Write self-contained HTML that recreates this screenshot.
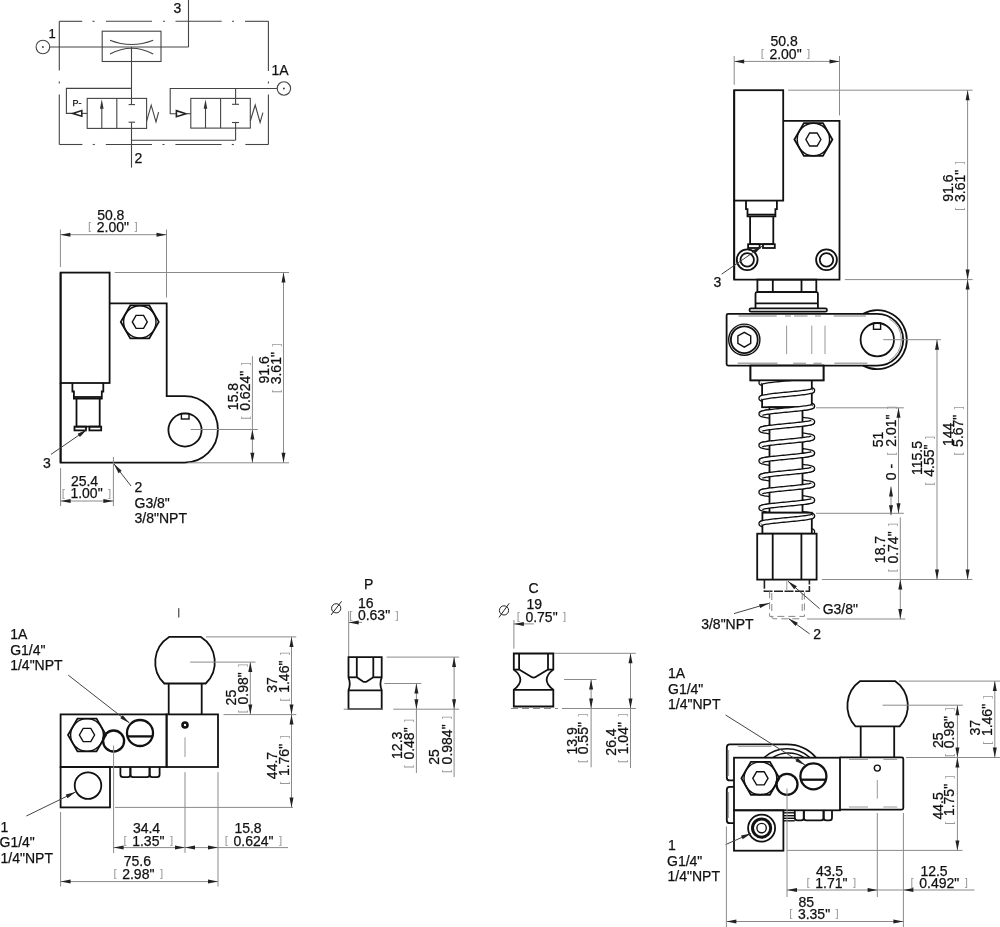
<!DOCTYPE html>
<html><head><meta charset="utf-8"><style>
html,body{margin:0;padding:0;background:#fff;}
svg{display:block;will-change:transform;}
.t{stroke:#8a8a8a;stroke-width:1;fill:none;}
.ld{stroke:#444;stroke-width:1;fill:none;}
.t1{stroke:#222;stroke-width:1;fill:none;}
.s{stroke:#444;stroke-width:1.1;fill:none;}
.k{stroke:#111;stroke-width:1.8;fill:none;}
.k1{stroke:#111;stroke-width:1.4;fill:none;}
.k2{stroke:#111;stroke-width:2.3;fill:none;}
.k3{stroke:#111;stroke-width:3;fill:none;}
.pin{stroke:#111;stroke-width:2.6;fill:none;}
.kw{stroke:#111;stroke-width:1.8;fill:#fff;}
.g{stroke:#999;stroke-width:1;fill:none;}
.hg{stroke:#aaa;stroke-width:1.4;fill:none;}
.hd{stroke:#888;stroke-width:1;fill:none;stroke-dasharray:7 4;}
.hdk{stroke:#222;stroke-width:1.6;fill:none;stroke-dasharray:9 1.5;}
.cl{stroke:#777;stroke-width:1;fill:none;stroke-dasharray:12 3 2 3;}
.coil{stroke:#111;stroke-width:5.6;fill:none;stroke-linecap:round;stroke-linejoin:round;}
.coilb{stroke:#111;stroke-width:5.6;fill:none;stroke-linecap:butt;stroke-linejoin:round;}
.coilwb{stroke:#fff;stroke-width:3;fill:none;stroke-linecap:butt;stroke-linejoin:round;}
.coilw{stroke:#fff;stroke-width:3;fill:none;stroke-linecap:round;stroke-linejoin:round;}
.ah{fill:#222;stroke:none;}
.ahs{fill:#333;stroke:none;}
.tri{fill:#fff;stroke:#222;stroke-width:1.6;}
.dot{fill:#333;stroke:none;}
.tx{font-family:"Liberation Sans",sans-serif;fill:#111;stroke:#111;stroke-width:0.25px;}
.br{fill:#999;stroke:none;font-size:11.5px;}
</style></head>
<body><svg width="1000" height="927" viewBox="0 0 1000 927">
<line x1="59.3" y1="21.3" x2="82.2" y2="21.3" class="s"/>
<line x1="92.5" y1="21.3" x2="94.5" y2="21.3" class="s"/>
<line x1="106" y1="21.3" x2="152" y2="21.3" class="s"/>
<line x1="163" y1="21.3" x2="165" y2="21.3" class="s"/>
<line x1="175.5" y1="21.3" x2="221.7" y2="21.3" class="s"/>
<line x1="232" y1="21.3" x2="234" y2="21.3" class="s"/>
<line x1="245" y1="21.3" x2="268.4" y2="21.3" class="s"/>
<line x1="59.3" y1="144.5" x2="82.4" y2="144.5" class="s"/>
<line x1="92.8" y1="144.5" x2="94.8" y2="144.5" class="s"/>
<line x1="105.8" y1="144.5" x2="152" y2="144.5" class="s"/>
<line x1="162.5" y1="144.5" x2="164.5" y2="144.5" class="s"/>
<line x1="175.4" y1="144.5" x2="221.6" y2="144.5" class="s"/>
<line x1="231.8" y1="144.5" x2="233.8" y2="144.5" class="s"/>
<line x1="245.4" y1="144.5" x2="268.4" y2="144.5" class="s"/>
<line x1="59.3" y1="21.3" x2="59.3" y2="70.5" class="s"/>
<line x1="59.3" y1="81.5" x2="59.3" y2="83.5" class="s"/>
<line x1="59.3" y1="94.4" x2="59.3" y2="144.5" class="s"/>
<line x1="268.4" y1="21.3" x2="268.4" y2="71" class="s"/>
<line x1="268.4" y1="81.5" x2="268.4" y2="83.5" class="s"/>
<line x1="268.4" y1="94.5" x2="268.4" y2="144.5" class="s"/>
<circle cx="42.9" cy="47" r="6.8" class="s"/>
<circle cx="42.9" cy="47" r="0.9" class="dot"/>
<line x1="49.7" y1="47" x2="188.5" y2="47" class="s"/>
<line x1="188.5" y1="0" x2="188.5" y2="47" class="s"/>
<rect x="102.2" y="31.2" width="58.8" height="30.3" class="s"/>
<path d="M110,40.2 Q131.6,48.8 153.2,40.2" class="s"/>
<path d="M110,54 Q131.6,42.6 153.2,54" class="s"/>
<line x1="131.5" y1="47" x2="131.5" y2="104.6" class="s"/>
<line x1="131.5" y1="122.2" x2="131.5" y2="167.6" class="s"/>
<polyline points="131.5,88.4 66.4,88.4 66.4,113.4 72.8,113.4" class="s"/>
<path d="M72.8,113.4 L81.8,110.6 L81.8,116.2 Z" class="tri"/>
<line x1="81.8" y1="113.4" x2="87.2" y2="113.4" class="s"/>
<rect x="87.2" y="98.4" width="59.4" height="30" class="s"/>
<line x1="116.8" y1="98.4" x2="116.8" y2="128.4" class="s"/>
<line x1="101.8" y1="128.4" x2="101.8" y2="106" class="s"/>
<path d="M101.8,99.2 L103.6,108.8 L100,108.8 Z" class="ahs"/>
<line x1="128.6" y1="104.6" x2="135" y2="104.6" class="s"/>
<line x1="128.6" y1="122.2" x2="135" y2="122.2" class="s"/>
<polyline points="146.6,121.4 151.2,105.2 156,122 158.6,112.2" class="s"/>
<text x="72.5" y="105.6" font-size="9" text-anchor="start" class="tx">P-</text>
<line x1="131.5" y1="140.2" x2="235.6" y2="140.2" class="s"/>
<line x1="235.6" y1="122.5" x2="235.6" y2="140.2" class="s"/>
<line x1="235.6" y1="88.5" x2="235.6" y2="104.3" class="s"/>
<rect x="190.8" y="98.4" width="59.5" height="29.7" class="s"/>
<line x1="220.6" y1="98.4" x2="220.6" y2="128.1" class="s"/>
<line x1="205.5" y1="128.1" x2="205.5" y2="106" class="s"/>
<path d="M205.5,99.2 L207.3,108.8 L203.7,108.8 Z" class="ahs"/>
<line x1="232" y1="104.3" x2="239" y2="104.3" class="s"/>
<line x1="232" y1="122.5" x2="239" y2="122.5" class="s"/>
<polyline points="277.2,88.5 170.2,88.5 170.2,113.7 176.4,113.7" class="s"/>
<path d="M185.9,113.7 L176.4,110.7 L176.4,116.7 Z" class="tri"/>
<line x1="185.9" y1="113.7" x2="190.8" y2="113.7" class="s"/>
<polyline points="250.3,121 255.2,105 260.1,122.5 262.9,112.7" class="s"/>
<circle cx="283.9" cy="88.5" r="6.7" class="s"/>
<circle cx="283.9" cy="88.5" r="0.9" class="dot"/>
<text x="48.5" y="37.6" font-size="13" text-anchor="start" class="tx">1</text>
<text x="173.5" y="12.8" font-size="14" text-anchor="start" class="tx">3</text>
<text x="271.5" y="75" font-size="14" text-anchor="start" class="tx">1A</text>
<text x="134.5" y="163.4" font-size="14" text-anchor="start" class="tx">2</text>
<rect x="60.6" y="272.6" width="49" height="110.4" class="k"/>
<polygon points="158.8,321.9 149.3,338.35 130.3,338.35 120.8,321.9 130.3,305.45 149.3,305.45" class="k"/>
<circle cx="139.8" cy="321.9" r="16.2" class="k1"/>
<polygon points="147.3,321.9 143.55,328.4 136.05,328.4 132.3,321.9 136.05,315.4 143.55,315.4" class="k1"/>
<polyline points="72.4,383 72.4,391.5 73.9,391.5 73.9,398.7 101.8,398.7 101.8,391.5 103.3,391.5 103.3,383" class="k"/>
<line x1="73.9" y1="397" x2="101.8" y2="397" class="k"/>
<polyline points="76.5,398.7 76.5,426.6 99.7,426.6 99.7,398.7" class="k"/>
<rect x="74.5" y="426.6" width="11.5" height="3.8" class="k"/>
<rect x="89.4" y="426.6" width="11.8" height="3.8" class="k"/>
<path d="M109.6,303.4 H166.7 V396.2 H184.7 A33.2,33.2 0 0 1 184.7,462.6 H60.6 V383" class="k"/>
<line x1="60.6" y1="272.6" x2="60.6" y2="462.6" class="k"/>
<circle cx="185" cy="430" r="16.6" class="k"/>
<rect x="181.4" y="413.6" width="7.6" height="5.4" class="k1"/>
<line x1="190.6" y1="429.5" x2="257.9" y2="429.5" class="t"/>
<line x1="51" y1="454.4" x2="87" y2="429.6" class="ld"/>
<path d="M87,429.6L79.9,436.92L77.63,433.63Z" class="ah"/>
<text x="43" y="467.6" font-size="14" text-anchor="start" class="tx">3</text>
<line x1="60.6" y1="468" x2="60.6" y2="506" class="t"/>
<line x1="113.4" y1="457" x2="113.4" y2="506" class="t"/>
<line x1="60.6" y1="501" x2="113.4" y2="501" class="t"/>
<path d="M60.6,501L70.6,499L70.6,503Z" class="ah"/>
<path d="M113.4,501L103.4,503L103.4,499Z" class="ah"/>
<text x="84.5" y="486" font-size="14" text-anchor="middle" class="tx">25.4</text>
<text x="86.5" y="498" font-size="14" text-anchor="middle" class="tx"><tspan class="br" dy="-1.5">[</tspan><tspan dx="1.6" dy="1.5"> 1.00" </tspan><tspan class="br" dx="1.6" dy="-1.5">]</tspan></text>
<line x1="131" y1="486" x2="114" y2="464" class="ld"/>
<path d="M114,464L121.7,470.69L118.53,473.14Z" class="ah"/>
<text x="134.5" y="492" font-size="14" text-anchor="start" class="tx">2</text>
<text x="134.5" y="508" font-size="14" text-anchor="start" class="tx">G3/8"</text>
<text x="134.5" y="523.2" font-size="14" text-anchor="start" class="tx">3/8"NPT</text>
<line x1="60.4" y1="229.5" x2="60.4" y2="267" class="t"/>
<line x1="166.5" y1="229.5" x2="166.5" y2="297.4" class="t"/>
<line x1="60.4" y1="234.7" x2="166.5" y2="234.7" class="t"/>
<path d="M60.4,234.7L70.4,232.7L70.4,236.7Z" class="ah"/>
<path d="M166.5,234.7L156.5,236.7L156.5,232.7Z" class="ah"/>
<text x="110.75" y="219.7" font-size="14" text-anchor="middle" class="tx">50.8</text>
<text x="112.85" y="231.7" font-size="14" text-anchor="middle" class="tx"><tspan class="br" dy="-1.5">[</tspan><tspan dx="1.6" dy="1.5"> 2.00" </tspan><tspan class="br" dx="1.6" dy="-1.5">]</tspan></text>
<line x1="114.7" y1="272.5" x2="289" y2="272.5" class="t"/>
<line x1="188" y1="462.8" x2="289" y2="462.8" class="t"/>
<line x1="283.5" y1="272.5" x2="283.5" y2="462.8" class="t"/>
<path d="M283.5,272.5L285.5,282.5L281.5,282.5Z" class="ah"/>
<path d="M283.5,462.8L281.5,452.8L285.5,452.8Z" class="ah"/>
<text transform="translate(268.7,369.8) rotate(-90)" font-size="14" text-anchor="middle" class="tx">91.6</text>
<text transform="translate(281,368.2) rotate(-90)" font-size="14" text-anchor="middle" class="tx"><tspan class="br" dy="-1.5">[</tspan><tspan dx="1.6" dy="1.5"> 3.61" </tspan><tspan class="br" dx="1.6" dy="-1.5">]</tspan></text>
<line x1="252.4" y1="356.3" x2="252.4" y2="462.8" class="t"/>
<path d="M252.4,429.5L254.4,439.5L250.4,439.5Z" class="ah"/>
<path d="M252.4,462.8L250.4,452.8L254.4,452.8Z" class="ah"/>
<text transform="translate(238,396.5) rotate(-90)" font-size="14" text-anchor="middle" class="tx">15.8</text>
<text transform="translate(250,390.8) rotate(-90)" font-size="14" text-anchor="middle" class="tx"><tspan class="br" dy="-1.5">[</tspan><tspan dx="1.6" dy="1.5"> 0.624" </tspan><tspan class="br" dx="1.6" dy="-1.5">]</tspan></text>
<rect x="734.2" y="90.2" width="49" height="110.4" class="k"/>
<polygon points="832.4,139.5 822.9,155.95 803.9,155.95 794.4,139.5 803.9,123.05 822.9,123.05" class="k"/>
<circle cx="813.4" cy="139.5" r="16.2" class="k1"/>
<polygon points="820.9,139.5 817.15,146 809.65,146 805.9,139.5 809.65,133 817.15,133" class="k1"/>
<polyline points="746,200.6 746,209.1 747.5,209.1 747.5,216.3 775.4,216.3 775.4,209.1 776.9,209.1 776.9,200.6" class="k"/>
<line x1="747.5" y1="214.6" x2="775.4" y2="214.6" class="k"/>
<polyline points="750.1,216.3 750.1,244.2 773.3,244.2 773.3,216.3" class="k"/>
<rect x="748.1" y="244.2" width="11.5" height="3.8" class="k"/>
<rect x="763" y="244.2" width="11.8" height="3.8" class="k"/>
<path d="M783.2,120.8 H839.5 V279.6 H734.2 V200" class="k"/>
<line x1="734.2" y1="90.2" x2="734.2" y2="279.6" class="k"/>
<circle cx="747.2" cy="259.8" r="10.4" class="k"/>
<circle cx="747.2" cy="259.8" r="6.75" class="k"/>
<circle cx="826.5" cy="259.8" r="10.4" class="k"/>
<circle cx="826.5" cy="259.8" r="6.75" class="k"/>
<line x1="721.6" y1="274.2" x2="762" y2="246.3" class="ld"/>
<path d="M762,246.3L754.91,253.63L752.63,250.34Z" class="ah"/>
<text x="713.5" y="287.3" font-size="14" text-anchor="start" class="tx">3</text>
<rect x="757.4" y="279.6" width="58.9" height="12.4" class="k"/>
<line x1="772.8" y1="279.6" x2="772.8" y2="292" class="k"/>
<line x1="801.5" y1="279.6" x2="801.5" y2="292" class="k"/>
<path d="M755.5,308.3 V293.6 Q755.5,292.1 757,292.1 H816.4 Q817.9,292.1 817.9,293.6 V308.3" class="k"/>
<line x1="755.5" y1="303.4" x2="817.9" y2="303.4" class="k"/>
<rect x="749.5" y="308.3" width="77.4" height="3.4" rx="1.5" class="k"/>
<path d="M863.2,313.8 A29.5,29.5 0 1 1 863.2,365.6" class="k"/>
<path d="M728.1,313.8 H877.3 A25.9,25.9 0 0 1 877.3,365.6 H728.1 Q726.6,365.6 726.6,364.1 V315.3 Q726.6,313.8 728.1,313.8 Z" class="k"/>
<path d="M889.3,318.9 A24,24 0 0 1 889.3,360.5" class="g"/>
<circle cx="877.3" cy="339.7" r="16.7" class="k"/>
<rect x="873.5" y="323" width="7.1" height="6.3" class="k1"/>
<circle cx="744.3" cy="339.7" r="15.6" class="k1"/>
<circle cx="744.3" cy="339.7" r="13.4" class="k"/>
<polygon points="750.71,343.4 744.3,347.1 737.89,343.4 737.89,336 744.3,332.3 750.71,336" class="k1"/>
<line x1="786.6" y1="325.6" x2="786.6" y2="354" class="g"/>
<line x1="811.8" y1="325.6" x2="811.8" y2="354" class="g"/>
<line x1="825" y1="325.6" x2="825" y2="354" class="g"/>
<line x1="738.5" y1="316" x2="776.7" y2="316" class="hg"/>
<line x1="785" y1="316" x2="791" y2="316" class="hg"/>
<line x1="794" y1="316" x2="807.5" y2="316" class="hg"/>
<line x1="815" y1="316" x2="821" y2="316" class="hg"/>
<line x1="833.7" y1="316" x2="866" y2="316" class="hg"/>
<line x1="737.7" y1="363.3" x2="777.5" y2="363.3" class="hg"/>
<line x1="793.2" y1="363.3" x2="806" y2="363.3" class="hg"/>
<line x1="813.5" y1="363.3" x2="821.7" y2="363.3" class="hg"/>
<line x1="834.4" y1="363.3" x2="867.4" y2="363.3" class="hg"/>
<line x1="883.2" y1="339.7" x2="941" y2="339.7" class="t"/>
<rect x="750.5" y="365.7" width="73" height="14.6" class="k"/>
<path d="M786.8,535.5 788.9,535.3 790.9,535.1 792.9,534.9 794.9,534.7 796.8,534.5 798.7,534.3 800.5,534.1 802.2,533.9 803.8,533.7 805.3,533.5 806.6,533.3 807.9,533.1 809.0,532.9 809.9,532.7 810.8,532.5 811.4,532.3 811.9,532.1 812.3,531.9 812.5,531.7 812.5,531.5 812.3,531.3 812.0,531.1 811.6,530.9 810.9,530.7 810.1,530.5 809.2,530.3 808.1,530.1 806.9,529.9 805.6,529.7 804.1,529.5 802.5,529.3 800.9,529.1 799.1,528.9 797.2,528.7 795.3,528.5 793.4,528.3 791.4,528.1 789.3,527.9 787.3,527.7 785.2,527.5 783.2,527.3 781.1,527.1 779.2,526.9 777.2,526.7 775.3,526.5 773.5,526.3 771.8,526.1 770.2,525.9 768.7,525.7 767.3,525.5 766.0,525.3 764.9,525.1 763.9,524.9 763.0,524.7 762.3,524.5 761.8,524.3 761.4,524.1 761.2,523.9 761.1,523.7 761.2,523.5 761.5,523.3 761.9,523.1 762.5,522.9 763.3,522.7 764.2,522.5 765.2,522.3 766.4,522.1 767.7,521.9 769.1,521.7 770.7,521.5 772.4,521.3 774.1,521.1 775.9,520.9 777.8,520.7 779.8,520.5 781.8,520.3 783.8,520.1 785.9,519.9 787.9,519.7 790.0,519.5 792.0,519.3 794.0,519.1 796.0,518.9 797.8,518.7 799.7,518.5 801.4,518.3 803.0,518.1 804.6,517.9 806.0,517.7 807.3,517.5 808.5,517.3 809.5,517.1 810.4,516.9 811.1,516.7 811.7,516.5 812.1,516.3 812.4,516.1 812.5,515.9 812.4,515.7 812.2,515.5 811.8,515.3 811.2,515.1 810.5,514.9 809.7,514.7 808.6,514.5 807.5,514.3 806.2,514.1 804.8,513.9 803.3,513.7 801.6,513.5 799.9,513.3 798.1,513.1 796.2,512.9 794.3,512.7 792.3,512.5 790.2,512.3 788.2,512.1 786.1,511.9 784.1,511.7 782.1,511.5 780.0,511.3 778.1,511.1 776.2,510.9 774.3,510.7 772.6,510.5 770.9,510.3 769.4,510.1 767.9,509.9 766.6,509.7 765.4,509.5 764.3,509.3 763.4,509.1 762.6,508.9 762.0,508.7 761.5,508.5 761.2,508.3 761.1,508.1 761.1,507.9 761.3,507.7 761.7,507.5 762.2,507.3 762.9,507.1 763.7,506.9 764.7,506.7 765.8,506.5 767.1,506.3 768.5,506.1 770.0,505.9 771.6,505.7 773.3,505.5 775.1,505.3 777.0,505.1 778.9,504.9 780.9,504.7 782.9,504.5 784.9,504.3 787.0,504.1 789.0,503.9 791.1,503.7 793.1,503.5 795.1,503.3 797.0,503.1 798.8,502.9 800.6,502.7 802.3,502.5 803.9,502.3 805.4,502.1 806.7,501.9 808.0,501.7 809.1,501.5 810.0,501.3 810.8,501.1 811.5,500.9 812.0,500.7 812.3,500.5 812.5,500.3 812.5,500.1 812.3,499.9 812.0,499.7 811.5,499.5 810.9,499.3 810.1,499.1 809.1,498.9 808.0,498.7 806.8,498.5 805.4,498.3 804.0,498.1 802.4,497.9 800.7,497.7 798.9,497.5 797.1,497.3 795.2,497.1 793.2,496.9 791.2,496.7 789.1,496.5 787.1,496.3 785.0,496.1 783.0,495.9 781.0,495.7 779.0,495.5 777.0,495.3 775.2,495.1 773.4,494.9 771.7,494.7 770.0,494.5 768.5,494.3 767.2,494.1 765.9,493.9 764.8,493.7 763.8,493.5 762.9,493.3 762.2,493.1 761.7,492.9 761.4,492.7 761.1,492.5 761.1,492.3 761.2,492.1 761.5,491.9 762.0,491.7 762.6,491.5 763.3,491.3 764.3,491.1 765.3,490.9 766.5,490.7 767.8,490.5 769.3,490.3 770.8,490.1 772.5,489.9 774.3,489.7 776.1,489.5 778.0,489.3 780.0,489.1 782.0,488.9 784.0,488.7 786.1,488.5 788.1,488.3 790.2,488.1 792.2,487.9 794.2,487.7 796.1,487.5 798.0,487.3 799.8,487.1 801.6,486.9 803.2,486.7 804.7,486.5 806.1,486.3 807.4,486.1 808.6,485.9 809.6,485.7 810.5,485.5 811.2,485.3 811.8,485.1 812.2,484.9 812.4,484.7 812.5,484.5 812.4,484.3 812.2,484.1 811.7,483.9 811.2,483.7 810.4,483.5 809.6,483.3 808.5,483.1 807.4,482.9 806.1,482.7 804.7,482.5 803.1,482.3 801.5,482.1 799.7,481.9 797.9,481.7 796.0,481.5 794.1,481.3 792.1,481.1 790.1,480.9 788.0,480.7 786.0,480.5 783.9,480.3 781.9,480.1 779.9,479.9 777.9,479.7 776.0,479.5 774.2,479.3 772.4,479.1 770.8,478.9 769.2,478.7 767.8,478.5 766.4,478.3 765.3,478.1 764.2,477.9 763.3,477.7 762.5,477.5 761.9,477.3 761.5,477.1 761.2,476.9 761.1,476.7 761.2,476.5 761.4,476.3 761.7,476.1 762.3,475.9 763.0,475.7 763.8,475.5 764.8,475.3 765.9,475.1 767.2,474.9 768.6,474.7 770.1,474.5 771.7,474.3 773.5,474.1 775.3,473.9 777.1,473.7 779.1,473.5 781.1,473.3 783.1,473.1 785.1,472.9 787.2,472.7 789.2,472.5 791.3,472.3 793.3,472.1 795.3,471.9 797.2,471.7 799.0,471.5 800.8,471.3 802.5,471.1 804.0,470.9 805.5,470.7 806.9,470.5 808.1,470.3 809.2,470.1 810.1,469.9 810.9,469.7 811.5,469.5 812.0,469.3 812.3,469.1 812.5,468.9 812.5,468.7 812.3,468.5 812.0,468.3 811.5,468.1 810.8,467.9 810.0,467.7 809.0,467.5 807.9,467.3 806.7,467.1 805.3,466.9 803.8,466.7 802.2,466.5 800.5,466.3 798.8,466.1 796.9,465.9 795.0,465.7 793.0,465.5 791.0,465.3 788.9,465.1 786.9,464.9 784.8,464.7 782.8,464.5 780.8,464.3 778.8,464.1 776.9,463.9 775.0,463.7 773.2,463.5 771.5,463.3 769.9,463.1 768.4,462.9 767.0,462.7 765.8,462.5 764.7,462.3 763.7,462.1 762.9,461.9 762.2,461.7 761.7,461.5 761.3,461.3 761.1,461.1 761.1,460.9 761.2,460.7 761.6,460.5 762.0,460.3 762.6,460.1 763.4,459.9 764.3,459.7 765.4,459.5 766.6,459.3 768.0,459.1 769.4,458.9 771.0,458.7 772.7,458.5 774.4,458.3 776.3,458.1 778.2,457.9 780.1,457.7 782.2,457.5 784.2,457.3 786.2,457.1 788.3,456.9 790.3,456.7 792.4,456.5 794.4,456.3 796.3,456.1 798.2,455.9 800.0,455.7 801.7,455.5 803.3,455.3 804.9,455.1 806.3,454.9 807.5,454.7 808.7,454.5 809.7,454.3 810.6,454.1 811.3,453.9 811.8,453.7 812.2,453.5 812.4,453.3 812.5,453.1 812.4,452.9 812.1,452.7 811.7,452.5 811.1,452.3 810.4,452.1 809.5,451.9 808.4,451.7 807.3,451.5 805.9,451.3 804.5,451.1 803.0,450.9 801.3,450.7 799.6,450.5 797.8,450.3 795.9,450.1 793.9,449.9 791.9,449.7 789.9,449.5 787.8,449.3 785.8,449.1 783.7,448.9 781.7,448.7 779.7,448.5 777.7,448.3 775.8,448.1 774.0,447.9 772.3,447.7 770.6,447.5 769.1,447.3 767.6,447.1 766.3,446.9 765.2,446.7 764.1,446.5 763.2,446.3 762.5,446.1 761.9,445.9 761.5,445.7 761.2,445.5 761.1,445.3 761.2,445.1 761.4,444.9 761.8,444.7 762.3,444.5 763.0,444.3 763.9,444.1 764.9,443.9 766.1,443.7 767.3,443.5 768.7,443.3 770.3,443.1 771.9,442.9 773.6,442.7 775.4,442.5 777.3,442.3 779.2,442.1 781.2,441.9 783.3,441.7 785.3,441.5 787.4,441.3 789.4,441.1 791.5,440.9 793.5,440.7 795.4,440.5 797.3,440.3 799.2,440.1 800.9,439.9 802.6,439.7 804.2,439.5 805.6,439.3 807.0,439.1 808.2,438.9 809.3,438.7 810.2,438.5 811.0,438.3 811.6,438.1 812.1,437.9 812.4,437.7 812.5,437.5 812.5,437.3 812.3,437.1 811.9,436.9 811.4,436.7 810.7,436.5 809.9,436.3 808.9,436.1 807.8,435.9 806.6,435.7 805.2,435.5 803.7,435.3 802.1,435.1 800.4,434.9 798.6,434.7 796.7,434.5 794.8,434.3 792.8,434.1 790.8,433.9 788.8,433.7 786.7,433.5 784.6,433.3 782.6,433.1 780.6,432.9 778.6,432.7 776.7,432.5 774.8,432.3 773.1,432.1 771.4,431.9 769.8,431.7 768.3,431.5 766.9,431.3 765.7,431.1 764.6,430.9 763.6,430.7 762.8,430.5 762.1,430.3 761.6,430.1 761.3,429.9 761.1,429.7 761.1,429.5 761.3,429.3 761.6,429.1 762.1,428.9 762.7,428.7 763.5,428.5 764.4,428.3 765.5,428.1 766.7,427.9 768.1,427.7 769.6,427.5 771.1,427.3 772.8,427.1 774.6,426.9 776.4,426.7 778.4,426.5 780.3,426.3 782.3,426.1 784.4,425.9 786.4,425.7 788.5,425.5 790.5,425.3 792.6,425.1 794.5,424.9 796.5,424.7 798.4,424.5 800.2,424.3 801.9,424.1 803.5,423.9 805.0,423.7 806.4,423.5 807.7,423.3 808.8,423.1 809.8,422.9 810.6,422.7 811.3,422.5 811.9,422.3 812.2,422.1 812.4,421.9 812.5,421.7 812.4,421.5 812.1,421.3 811.7,421.1 811.1,420.9 810.3,420.7 809.4,420.5 808.3,420.3 807.1,420.1 805.8,419.9 804.4,419.7 802.8,419.5 801.2,419.3 799.4,419.1 797.6,418.9 795.7,418.7 793.7,418.5 791.7,418.3 789.7,418.1 787.6,417.9 785.6,417.7 783.5,417.5 781.5,417.3 779.5,417.1 777.6,416.9 775.7,416.7 773.8,416.5 772.1,416.3 770.5,416.1 768.9,415.9 767.5,415.7 766.2,415.5 765.1,415.3 764.0,415.1 763.1,414.9 762.4,414.7 761.8,414.5 761.4,414.3 761.2,414.1 761.1,413.9 761.2,413.7 761.4,413.5 761.8,413.3 762.4,413.1 763.1,412.9 764.0,412.7 765.0,412.5 766.2,412.3 767.5,412.1 768.9,411.9 770.4,411.7 772.1,411.5 773.8,411.3 775.6,411.1 777.5,410.9 779.4,410.7 781.4,410.5 783.4,410.3 785.5,410.1 787.6,409.9 789.6,409.7 791.6,409.5 793.6,409.3 795.6,409.1 797.5,408.9 799.3,408.7 801.1,408.5 802.8,408.3 804.3,408.1 805.8,407.9 807.1,407.7 808.3,407.5 809.4,407.3 810.3,407.1 811.0,406.9 811.6,406.7 812.1,406.5 812.4,406.3 812.5,406.1 812.5,405.9 812.2,405.7 811.9,405.5 811.3,405.3 810.7,405.1 809.8,405.0 808.8,404.8 807.7,404.6 806.4,404.4 805.0,404.2 803.5,404.0 801.9,403.8 800.2,403.6 798.4,403.4 796.6,403.2 794.6,403.0 792.6,402.8 790.6,402.6 788.6,402.4 786.5,402.2 784.5,402.0 782.4,401.8 780.4,401.6 778.4,401.4 776.5,401.2 774.7,401.0 772.9,400.8 771.2,400.6 769.6,400.4 768.1,400.2 766.8,400.0 765.6,399.8 764.5,399.6 763.5,399.4 762.7,399.2 762.1,399.0 761.6,398.8 761.3,398.6 761.1,398.4 761.1,398.2 761.3,398.0 761.6,397.8 762.1,397.6 762.8,397.4 763.6,397.2 764.5,397.0 765.6,396.8 766.9,396.6 768.2,396.4 769.7,396.2 771.3,396.0 773.0,395.8 774.8,395.6 776.6,395.4 778.5,395.2 780.5,395.0 782.5,394.8 784.6,394.6 786.6,394.4 788.7,394.2 790.7,394.0 792.7,393.8 794.7,393.6 796.7,393.4 798.5,393.2 800.3,393.0 802.0,392.8 803.6,392.6 805.1,392.4 806.5,392.2 807.8,392.0 808.9,391.8 809.9,391.6 810.7,391.4 811.4,391.2 811.9,391.0 812.3,390.8 812.5,390.6 812.5,390.4 812.4,390.2 812.1,390.0 811.6,389.8 811.0,389.6 810.2,389.4 809.3,389.2 808.2,389.0 807.0,388.8 805.7,388.6 804.2,388.4 802.7,388.2 801.0,388.0 799.2,387.8 797.4,387.6 795.5,387.4 793.5,387.2 791.5,387.0 789.5,386.8 787.4,386.6 785.4,386.4 783.3,386.2 781.3,386.0 779.3,385.8 777.4,385.6 775.5,385.4 773.7,385.2 772.0,385.0 770.3,384.8 768.8,384.6 767.4,384.4 766.1,384.2 765.0,384.0 763.9,383.8 763.1,383.6 762.4,383.4 761.8,383.2 761.4,383.0 761.2,382.8 761.1,382.6 761.2,382.4 761.5,382.2 761.9,382.0 762.5,381.8 763.2,381.6 764.1,381.4 765.1,381.2 766.3,381.0 767.6,380.8 769.0,380.6 770.6,380.4 772.2,380.2 773.9,380.0 775.8,379.8 777.7,379.6 779.6,379.4 781.6,379.2 783.6,379.0 785.7,378.8 787.7,378.6 789.8,378.4 791.8,378.2 793.8,378.0 795.8,377.8 797.7,377.6 799.5,377.4 801.3,377.2 802.9,377.0 804.5,376.8 805.9,376.6 807.2,376.4 808.4,376.2 809.4,376.0 810.3,375.8 811.1,375.6 811.7,375.4 812.1,375.2 812.4,375.0 812.5,374.8 812.4,374.6 812.2,374.4 811.8,374.2 811.3,374.0 810.6,373.8 809.7,373.6 808.7,373.4 807.6,373.2" class="coil"/>
<path d="M786.8,535.5 788.9,535.3 790.9,535.1 792.9,534.9 794.9,534.7 796.8,534.5 798.7,534.3 800.5,534.1 802.2,533.9 803.8,533.7 805.3,533.5 806.6,533.3 807.9,533.1 809.0,532.9 809.9,532.7 810.8,532.5 811.4,532.3 811.9,532.1 812.3,531.9 812.5,531.7 812.5,531.5 812.3,531.3 812.0,531.1 811.6,530.9 810.9,530.7 810.1,530.5 809.2,530.3 808.1,530.1 806.9,529.9 805.6,529.7 804.1,529.5 802.5,529.3 800.9,529.1 799.1,528.9 797.2,528.7 795.3,528.5 793.4,528.3 791.4,528.1 789.3,527.9 787.3,527.7 785.2,527.5 783.2,527.3 781.1,527.1 779.2,526.9 777.2,526.7 775.3,526.5 773.5,526.3 771.8,526.1 770.2,525.9 768.7,525.7 767.3,525.5 766.0,525.3 764.9,525.1 763.9,524.9 763.0,524.7 762.3,524.5 761.8,524.3 761.4,524.1 761.2,523.9 761.1,523.7 761.2,523.5 761.5,523.3 761.9,523.1 762.5,522.9 763.3,522.7 764.2,522.5 765.2,522.3 766.4,522.1 767.7,521.9 769.1,521.7 770.7,521.5 772.4,521.3 774.1,521.1 775.9,520.9 777.8,520.7 779.8,520.5 781.8,520.3 783.8,520.1 785.9,519.9 787.9,519.7 790.0,519.5 792.0,519.3 794.0,519.1 796.0,518.9 797.8,518.7 799.7,518.5 801.4,518.3 803.0,518.1 804.6,517.9 806.0,517.7 807.3,517.5 808.5,517.3 809.5,517.1 810.4,516.9 811.1,516.7 811.7,516.5 812.1,516.3 812.4,516.1 812.5,515.9 812.4,515.7 812.2,515.5 811.8,515.3 811.2,515.1 810.5,514.9 809.7,514.7 808.6,514.5 807.5,514.3 806.2,514.1 804.8,513.9 803.3,513.7 801.6,513.5 799.9,513.3 798.1,513.1 796.2,512.9 794.3,512.7 792.3,512.5 790.2,512.3 788.2,512.1 786.1,511.9 784.1,511.7 782.1,511.5 780.0,511.3 778.1,511.1 776.2,510.9 774.3,510.7 772.6,510.5 770.9,510.3 769.4,510.1 767.9,509.9 766.6,509.7 765.4,509.5 764.3,509.3 763.4,509.1 762.6,508.9 762.0,508.7 761.5,508.5 761.2,508.3 761.1,508.1 761.1,507.9 761.3,507.7 761.7,507.5 762.2,507.3 762.9,507.1 763.7,506.9 764.7,506.7 765.8,506.5 767.1,506.3 768.5,506.1 770.0,505.9 771.6,505.7 773.3,505.5 775.1,505.3 777.0,505.1 778.9,504.9 780.9,504.7 782.9,504.5 784.9,504.3 787.0,504.1 789.0,503.9 791.1,503.7 793.1,503.5 795.1,503.3 797.0,503.1 798.8,502.9 800.6,502.7 802.3,502.5 803.9,502.3 805.4,502.1 806.7,501.9 808.0,501.7 809.1,501.5 810.0,501.3 810.8,501.1 811.5,500.9 812.0,500.7 812.3,500.5 812.5,500.3 812.5,500.1 812.3,499.9 812.0,499.7 811.5,499.5 810.9,499.3 810.1,499.1 809.1,498.9 808.0,498.7 806.8,498.5 805.4,498.3 804.0,498.1 802.4,497.9 800.7,497.7 798.9,497.5 797.1,497.3 795.2,497.1 793.2,496.9 791.2,496.7 789.1,496.5 787.1,496.3 785.0,496.1 783.0,495.9 781.0,495.7 779.0,495.5 777.0,495.3 775.2,495.1 773.4,494.9 771.7,494.7 770.0,494.5 768.5,494.3 767.2,494.1 765.9,493.9 764.8,493.7 763.8,493.5 762.9,493.3 762.2,493.1 761.7,492.9 761.4,492.7 761.1,492.5 761.1,492.3 761.2,492.1 761.5,491.9 762.0,491.7 762.6,491.5 763.3,491.3 764.3,491.1 765.3,490.9 766.5,490.7 767.8,490.5 769.3,490.3 770.8,490.1 772.5,489.9 774.3,489.7 776.1,489.5 778.0,489.3 780.0,489.1 782.0,488.9 784.0,488.7 786.1,488.5 788.1,488.3 790.2,488.1 792.2,487.9 794.2,487.7 796.1,487.5 798.0,487.3 799.8,487.1 801.6,486.9 803.2,486.7 804.7,486.5 806.1,486.3 807.4,486.1 808.6,485.9 809.6,485.7 810.5,485.5 811.2,485.3 811.8,485.1 812.2,484.9 812.4,484.7 812.5,484.5 812.4,484.3 812.2,484.1 811.7,483.9 811.2,483.7 810.4,483.5 809.6,483.3 808.5,483.1 807.4,482.9 806.1,482.7 804.7,482.5 803.1,482.3 801.5,482.1 799.7,481.9 797.9,481.7 796.0,481.5 794.1,481.3 792.1,481.1 790.1,480.9 788.0,480.7 786.0,480.5 783.9,480.3 781.9,480.1 779.9,479.9 777.9,479.7 776.0,479.5 774.2,479.3 772.4,479.1 770.8,478.9 769.2,478.7 767.8,478.5 766.4,478.3 765.3,478.1 764.2,477.9 763.3,477.7 762.5,477.5 761.9,477.3 761.5,477.1 761.2,476.9 761.1,476.7 761.2,476.5 761.4,476.3 761.7,476.1 762.3,475.9 763.0,475.7 763.8,475.5 764.8,475.3 765.9,475.1 767.2,474.9 768.6,474.7 770.1,474.5 771.7,474.3 773.5,474.1 775.3,473.9 777.1,473.7 779.1,473.5 781.1,473.3 783.1,473.1 785.1,472.9 787.2,472.7 789.2,472.5 791.3,472.3 793.3,472.1 795.3,471.9 797.2,471.7 799.0,471.5 800.8,471.3 802.5,471.1 804.0,470.9 805.5,470.7 806.9,470.5 808.1,470.3 809.2,470.1 810.1,469.9 810.9,469.7 811.5,469.5 812.0,469.3 812.3,469.1 812.5,468.9 812.5,468.7 812.3,468.5 812.0,468.3 811.5,468.1 810.8,467.9 810.0,467.7 809.0,467.5 807.9,467.3 806.7,467.1 805.3,466.9 803.8,466.7 802.2,466.5 800.5,466.3 798.8,466.1 796.9,465.9 795.0,465.7 793.0,465.5 791.0,465.3 788.9,465.1 786.9,464.9 784.8,464.7 782.8,464.5 780.8,464.3 778.8,464.1 776.9,463.9 775.0,463.7 773.2,463.5 771.5,463.3 769.9,463.1 768.4,462.9 767.0,462.7 765.8,462.5 764.7,462.3 763.7,462.1 762.9,461.9 762.2,461.7 761.7,461.5 761.3,461.3 761.1,461.1 761.1,460.9 761.2,460.7 761.6,460.5 762.0,460.3 762.6,460.1 763.4,459.9 764.3,459.7 765.4,459.5 766.6,459.3 768.0,459.1 769.4,458.9 771.0,458.7 772.7,458.5 774.4,458.3 776.3,458.1 778.2,457.9 780.1,457.7 782.2,457.5 784.2,457.3 786.2,457.1 788.3,456.9 790.3,456.7 792.4,456.5 794.4,456.3 796.3,456.1 798.2,455.9 800.0,455.7 801.7,455.5 803.3,455.3 804.9,455.1 806.3,454.9 807.5,454.7 808.7,454.5 809.7,454.3 810.6,454.1 811.3,453.9 811.8,453.7 812.2,453.5 812.4,453.3 812.5,453.1 812.4,452.9 812.1,452.7 811.7,452.5 811.1,452.3 810.4,452.1 809.5,451.9 808.4,451.7 807.3,451.5 805.9,451.3 804.5,451.1 803.0,450.9 801.3,450.7 799.6,450.5 797.8,450.3 795.9,450.1 793.9,449.9 791.9,449.7 789.9,449.5 787.8,449.3 785.8,449.1 783.7,448.9 781.7,448.7 779.7,448.5 777.7,448.3 775.8,448.1 774.0,447.9 772.3,447.7 770.6,447.5 769.1,447.3 767.6,447.1 766.3,446.9 765.2,446.7 764.1,446.5 763.2,446.3 762.5,446.1 761.9,445.9 761.5,445.7 761.2,445.5 761.1,445.3 761.2,445.1 761.4,444.9 761.8,444.7 762.3,444.5 763.0,444.3 763.9,444.1 764.9,443.9 766.1,443.7 767.3,443.5 768.7,443.3 770.3,443.1 771.9,442.9 773.6,442.7 775.4,442.5 777.3,442.3 779.2,442.1 781.2,441.9 783.3,441.7 785.3,441.5 787.4,441.3 789.4,441.1 791.5,440.9 793.5,440.7 795.4,440.5 797.3,440.3 799.2,440.1 800.9,439.9 802.6,439.7 804.2,439.5 805.6,439.3 807.0,439.1 808.2,438.9 809.3,438.7 810.2,438.5 811.0,438.3 811.6,438.1 812.1,437.9 812.4,437.7 812.5,437.5 812.5,437.3 812.3,437.1 811.9,436.9 811.4,436.7 810.7,436.5 809.9,436.3 808.9,436.1 807.8,435.9 806.6,435.7 805.2,435.5 803.7,435.3 802.1,435.1 800.4,434.9 798.6,434.7 796.7,434.5 794.8,434.3 792.8,434.1 790.8,433.9 788.8,433.7 786.7,433.5 784.6,433.3 782.6,433.1 780.6,432.9 778.6,432.7 776.7,432.5 774.8,432.3 773.1,432.1 771.4,431.9 769.8,431.7 768.3,431.5 766.9,431.3 765.7,431.1 764.6,430.9 763.6,430.7 762.8,430.5 762.1,430.3 761.6,430.1 761.3,429.9 761.1,429.7 761.1,429.5 761.3,429.3 761.6,429.1 762.1,428.9 762.7,428.7 763.5,428.5 764.4,428.3 765.5,428.1 766.7,427.9 768.1,427.7 769.6,427.5 771.1,427.3 772.8,427.1 774.6,426.9 776.4,426.7 778.4,426.5 780.3,426.3 782.3,426.1 784.4,425.9 786.4,425.7 788.5,425.5 790.5,425.3 792.6,425.1 794.5,424.9 796.5,424.7 798.4,424.5 800.2,424.3 801.9,424.1 803.5,423.9 805.0,423.7 806.4,423.5 807.7,423.3 808.8,423.1 809.8,422.9 810.6,422.7 811.3,422.5 811.9,422.3 812.2,422.1 812.4,421.9 812.5,421.7 812.4,421.5 812.1,421.3 811.7,421.1 811.1,420.9 810.3,420.7 809.4,420.5 808.3,420.3 807.1,420.1 805.8,419.9 804.4,419.7 802.8,419.5 801.2,419.3 799.4,419.1 797.6,418.9 795.7,418.7 793.7,418.5 791.7,418.3 789.7,418.1 787.6,417.9 785.6,417.7 783.5,417.5 781.5,417.3 779.5,417.1 777.6,416.9 775.7,416.7 773.8,416.5 772.1,416.3 770.5,416.1 768.9,415.9 767.5,415.7 766.2,415.5 765.1,415.3 764.0,415.1 763.1,414.9 762.4,414.7 761.8,414.5 761.4,414.3 761.2,414.1 761.1,413.9 761.2,413.7 761.4,413.5 761.8,413.3 762.4,413.1 763.1,412.9 764.0,412.7 765.0,412.5 766.2,412.3 767.5,412.1 768.9,411.9 770.4,411.7 772.1,411.5 773.8,411.3 775.6,411.1 777.5,410.9 779.4,410.7 781.4,410.5 783.4,410.3 785.5,410.1 787.6,409.9 789.6,409.7 791.6,409.5 793.6,409.3 795.6,409.1 797.5,408.9 799.3,408.7 801.1,408.5 802.8,408.3 804.3,408.1 805.8,407.9 807.1,407.7 808.3,407.5 809.4,407.3 810.3,407.1 811.0,406.9 811.6,406.7 812.1,406.5 812.4,406.3 812.5,406.1 812.5,405.9 812.2,405.7 811.9,405.5 811.3,405.3 810.7,405.1 809.8,405.0 808.8,404.8 807.7,404.6 806.4,404.4 805.0,404.2 803.5,404.0 801.9,403.8 800.2,403.6 798.4,403.4 796.6,403.2 794.6,403.0 792.6,402.8 790.6,402.6 788.6,402.4 786.5,402.2 784.5,402.0 782.4,401.8 780.4,401.6 778.4,401.4 776.5,401.2 774.7,401.0 772.9,400.8 771.2,400.6 769.6,400.4 768.1,400.2 766.8,400.0 765.6,399.8 764.5,399.6 763.5,399.4 762.7,399.2 762.1,399.0 761.6,398.8 761.3,398.6 761.1,398.4 761.1,398.2 761.3,398.0 761.6,397.8 762.1,397.6 762.8,397.4 763.6,397.2 764.5,397.0 765.6,396.8 766.9,396.6 768.2,396.4 769.7,396.2 771.3,396.0 773.0,395.8 774.8,395.6 776.6,395.4 778.5,395.2 780.5,395.0 782.5,394.8 784.6,394.6 786.6,394.4 788.7,394.2 790.7,394.0 792.7,393.8 794.7,393.6 796.7,393.4 798.5,393.2 800.3,393.0 802.0,392.8 803.6,392.6 805.1,392.4 806.5,392.2 807.8,392.0 808.9,391.8 809.9,391.6 810.7,391.4 811.4,391.2 811.9,391.0 812.3,390.8 812.5,390.6 812.5,390.4 812.4,390.2 812.1,390.0 811.6,389.8 811.0,389.6 810.2,389.4 809.3,389.2 808.2,389.0 807.0,388.8 805.7,388.6 804.2,388.4 802.7,388.2 801.0,388.0 799.2,387.8 797.4,387.6 795.5,387.4 793.5,387.2 791.5,387.0 789.5,386.8 787.4,386.6 785.4,386.4 783.3,386.2 781.3,386.0 779.3,385.8 777.4,385.6 775.5,385.4 773.7,385.2 772.0,385.0 770.3,384.8 768.8,384.6 767.4,384.4 766.1,384.2 765.0,384.0 763.9,383.8 763.1,383.6 762.4,383.4 761.8,383.2 761.4,383.0 761.2,382.8 761.1,382.6 761.2,382.4 761.5,382.2 761.9,382.0 762.5,381.8 763.2,381.6 764.1,381.4 765.1,381.2 766.3,381.0 767.6,380.8 769.0,380.6 770.6,380.4 772.2,380.2 773.9,380.0 775.8,379.8 777.7,379.6 779.6,379.4 781.6,379.2 783.6,379.0 785.7,378.8 787.7,378.6 789.8,378.4 791.8,378.2 793.8,378.0 795.8,377.8 797.7,377.6 799.5,377.4 801.3,377.2 802.9,377.0 804.5,376.8 805.9,376.6 807.2,376.4 808.4,376.2 809.4,376.0 810.3,375.8 811.1,375.6 811.7,375.4 812.1,375.2 812.4,375.0 812.5,374.8 812.4,374.6 812.2,374.4 811.8,374.2 811.3,374.0 810.6,373.8 809.7,373.6 808.7,373.4 807.6,373.2" class="coilw"/>
<rect x="762.1" y="380.3" width="49.7" height="26.9" class="kw"/>
<rect x="769.5" y="407.2" width="33" height="105.5" class="kw"/>
<rect x="762.4" y="512.7" width="49.4" height="21" class="kw"/>
<path d="M761.1,523.7 761.2,523.5 761.4,523.3 761.8,523.1 762.4,522.9 763.2,522.7 764.0,522.5 765.1,522.3 766.3,522.1 767.6,521.9 769.0,521.7 770.5,521.5 772.2,521.3 773.9,521.1 775.8,520.9 777.7,520.7 779.6,520.5 781.7,520.3 783.7,520.1 785.8,519.9 787.8,519.7 789.9,519.5 791.9,519.3 794.0,519.1 795.9,518.9 797.8,518.7 799.6,518.5 801.4,518.3 803.1,518.1 804.6,517.9 806.0,517.7 807.3,517.5 808.5,517.3 809.6,517.1 810.4,516.9 811.2,516.7 811.8,516.5 812.2,516.3 812.4,516.1 812.5,515.9" class="coilb"/>
<path d="M761.1,523.7 761.2,523.5 761.4,523.3 761.8,523.1 762.4,522.9 763.2,522.7 764.0,522.5 765.1,522.3 766.3,522.1 767.6,521.9 769.0,521.7 770.5,521.5 772.2,521.3 773.9,521.1 775.8,520.9 777.7,520.7 779.6,520.5 781.7,520.3 783.7,520.1 785.8,519.9 787.8,519.7 789.9,519.5 791.9,519.3 794.0,519.1 795.9,518.9 797.8,518.7 799.6,518.5 801.4,518.3 803.1,518.1 804.6,517.9 806.0,517.7 807.3,517.5 808.5,517.3 809.6,517.1 810.4,516.9 811.2,516.7 811.8,516.5 812.2,516.3 812.4,516.1 812.5,515.9" class="coilwb"/>
<path d="M761.1,508.0 761.2,507.8 761.4,507.6 761.8,507.4 762.4,507.2 763.2,507.0 764.0,506.8 765.1,506.6 766.3,506.4 767.6,506.2 769.0,506.0 770.5,505.8 772.2,505.6 773.9,505.4 775.8,505.2 777.7,505.0 779.6,504.8 781.7,504.6 783.7,504.4 785.8,504.2 787.8,504.0 789.9,503.8 791.9,503.6 794.0,503.4 795.9,503.2 797.8,503.0 799.6,502.8 801.4,502.6 803.1,502.4 804.6,502.2 806.0,502.0 807.3,501.8 808.5,501.6 809.6,501.4 810.4,501.2 811.2,501.0 811.8,500.8 812.2,500.6 812.4,500.4 812.5,500.2" class="coilb"/>
<path d="M761.1,508.0 761.2,507.8 761.4,507.6 761.8,507.4 762.4,507.2 763.2,507.0 764.0,506.8 765.1,506.6 766.3,506.4 767.6,506.2 769.0,506.0 770.5,505.8 772.2,505.6 773.9,505.4 775.8,505.2 777.7,505.0 779.6,504.8 781.7,504.6 783.7,504.4 785.8,504.2 787.8,504.0 789.9,503.8 791.9,503.6 794.0,503.4 795.9,503.2 797.8,503.0 799.6,502.8 801.4,502.6 803.1,502.4 804.6,502.2 806.0,502.0 807.3,501.8 808.5,501.6 809.6,501.4 810.4,501.2 811.2,501.0 811.8,500.8 812.2,500.6 812.4,500.4 812.5,500.2" class="coilwb"/>
<path d="M761.1,492.3 761.2,492.1 761.4,491.9 761.8,491.7 762.4,491.5 763.2,491.3 764.0,491.1 765.1,490.9 766.3,490.7 767.6,490.5 769.0,490.3 770.5,490.1 772.2,489.9 773.9,489.7 775.8,489.5 777.7,489.3 779.6,489.1 781.7,488.9 783.7,488.7 785.8,488.5 787.8,488.3 789.9,488.1 791.9,487.9 794.0,487.7 795.9,487.5 797.8,487.3 799.6,487.1 801.4,486.9 803.1,486.7 804.6,486.5 806.0,486.3 807.3,486.1 808.5,485.9 809.6,485.7 810.4,485.5 811.2,485.3 811.8,485.1 812.2,484.9 812.4,484.7 812.5,484.5" class="coilb"/>
<path d="M761.1,492.3 761.2,492.1 761.4,491.9 761.8,491.7 762.4,491.5 763.2,491.3 764.0,491.1 765.1,490.9 766.3,490.7 767.6,490.5 769.0,490.3 770.5,490.1 772.2,489.9 773.9,489.7 775.8,489.5 777.7,489.3 779.6,489.1 781.7,488.9 783.7,488.7 785.8,488.5 787.8,488.3 789.9,488.1 791.9,487.9 794.0,487.7 795.9,487.5 797.8,487.3 799.6,487.1 801.4,486.9 803.1,486.7 804.6,486.5 806.0,486.3 807.3,486.1 808.5,485.9 809.6,485.7 810.4,485.5 811.2,485.3 811.8,485.1 812.2,484.9 812.4,484.7 812.5,484.5" class="coilwb"/>
<path d="M761.1,476.7 761.2,476.5 761.4,476.3 761.8,476.1 762.4,475.9 763.2,475.7 764.0,475.5 765.1,475.3 766.3,475.1 767.6,474.9 769.0,474.6 770.5,474.4 772.2,474.2 773.9,474.0 775.8,473.8 777.7,473.6 779.6,473.4 781.7,473.2 783.7,473.0 785.8,472.8 787.8,472.6 789.9,472.4 791.9,472.2 794.0,472.0 795.9,471.8 797.8,471.6 799.6,471.4 801.4,471.2 803.1,471.0 804.6,470.8 806.0,470.6 807.3,470.4 808.5,470.2 809.6,470.0 810.4,469.8 811.2,469.6 811.8,469.4 812.2,469.2 812.4,469.0 812.5,468.8" class="coilb"/>
<path d="M761.1,476.7 761.2,476.5 761.4,476.3 761.8,476.1 762.4,475.9 763.2,475.7 764.0,475.5 765.1,475.3 766.3,475.1 767.6,474.9 769.0,474.6 770.5,474.4 772.2,474.2 773.9,474.0 775.8,473.8 777.7,473.6 779.6,473.4 781.7,473.2 783.7,473.0 785.8,472.8 787.8,472.6 789.9,472.4 791.9,472.2 794.0,472.0 795.9,471.8 797.8,471.6 799.6,471.4 801.4,471.2 803.1,471.0 804.6,470.8 806.0,470.6 807.3,470.4 808.5,470.2 809.6,470.0 810.4,469.8 811.2,469.6 811.8,469.4 812.2,469.2 812.4,469.0 812.5,468.8" class="coilwb"/>
<path d="M761.1,461.0 761.2,460.8 761.4,460.6 761.8,460.4 762.4,460.2 763.2,460.0 764.0,459.8 765.1,459.6 766.3,459.4 767.6,459.2 769.0,459.0 770.5,458.8 772.2,458.6 773.9,458.4 775.8,458.2 777.7,458.0 779.6,457.8 781.7,457.6 783.7,457.4 785.8,457.2 787.8,457.0 789.9,456.8 791.9,456.6 794.0,456.4 795.9,456.2 797.8,456.0 799.6,455.8 801.4,455.6 803.1,455.4 804.6,455.2 806.0,454.9 807.3,454.7 808.5,454.5 809.6,454.3 810.4,454.1 811.2,453.9 811.8,453.7 812.2,453.5 812.4,453.3 812.5,453.1" class="coilb"/>
<path d="M761.1,461.0 761.2,460.8 761.4,460.6 761.8,460.4 762.4,460.2 763.2,460.0 764.0,459.8 765.1,459.6 766.3,459.4 767.6,459.2 769.0,459.0 770.5,458.8 772.2,458.6 773.9,458.4 775.8,458.2 777.7,458.0 779.6,457.8 781.7,457.6 783.7,457.4 785.8,457.2 787.8,457.0 789.9,456.8 791.9,456.6 794.0,456.4 795.9,456.2 797.8,456.0 799.6,455.8 801.4,455.6 803.1,455.4 804.6,455.2 806.0,454.9 807.3,454.7 808.5,454.5 809.6,454.3 810.4,454.1 811.2,453.9 811.8,453.7 812.2,453.5 812.4,453.3 812.5,453.1" class="coilwb"/>
<path d="M761.1,445.3 761.2,445.1 761.4,444.9 761.8,444.7 762.4,444.5 763.2,444.3 764.0,444.1 765.1,443.9 766.3,443.7 767.6,443.5 769.0,443.3 770.5,443.1 772.2,442.9 773.9,442.7 775.8,442.5 777.7,442.3 779.6,442.1 781.7,441.9 783.7,441.7 785.8,441.5 787.8,441.3 789.9,441.1 791.9,440.9 794.0,440.7 795.9,440.5 797.8,440.3 799.6,440.1 801.4,439.9 803.1,439.7 804.6,439.5 806.0,439.3 807.3,439.1 808.5,438.9 809.6,438.7 810.4,438.5 811.2,438.3 811.8,438.1 812.2,437.9 812.4,437.7 812.5,437.5" class="coilb"/>
<path d="M761.1,445.3 761.2,445.1 761.4,444.9 761.8,444.7 762.4,444.5 763.2,444.3 764.0,444.1 765.1,443.9 766.3,443.7 767.6,443.5 769.0,443.3 770.5,443.1 772.2,442.9 773.9,442.7 775.8,442.5 777.7,442.3 779.6,442.1 781.7,441.9 783.7,441.7 785.8,441.5 787.8,441.3 789.9,441.1 791.9,440.9 794.0,440.7 795.9,440.5 797.8,440.3 799.6,440.1 801.4,439.9 803.1,439.7 804.6,439.5 806.0,439.3 807.3,439.1 808.5,438.9 809.6,438.7 810.4,438.5 811.2,438.3 811.8,438.1 812.2,437.9 812.4,437.7 812.5,437.5" class="coilwb"/>
<path d="M761.1,429.6 761.2,429.4 761.4,429.2 761.8,429.0 762.4,428.8 763.2,428.6 764.0,428.4 765.1,428.2 766.3,428.0 767.6,427.8 769.0,427.6 770.5,427.4 772.2,427.2 773.9,427.0 775.8,426.8 777.7,426.6 779.6,426.4 781.7,426.2 783.7,426.0 785.8,425.8 787.8,425.6 789.9,425.4 791.9,425.2 794.0,425.0 795.9,424.8 797.8,424.6 799.6,424.4 801.4,424.2 803.1,424.0 804.6,423.8 806.0,423.6 807.3,423.4 808.5,423.2 809.6,423.0 810.4,422.8 811.2,422.6 811.8,422.4 812.2,422.2 812.4,422.0 812.5,421.8" class="coilb"/>
<path d="M761.1,429.6 761.2,429.4 761.4,429.2 761.8,429.0 762.4,428.8 763.2,428.6 764.0,428.4 765.1,428.2 766.3,428.0 767.6,427.8 769.0,427.6 770.5,427.4 772.2,427.2 773.9,427.0 775.8,426.8 777.7,426.6 779.6,426.4 781.7,426.2 783.7,426.0 785.8,425.8 787.8,425.6 789.9,425.4 791.9,425.2 794.0,425.0 795.9,424.8 797.8,424.6 799.6,424.4 801.4,424.2 803.1,424.0 804.6,423.8 806.0,423.6 807.3,423.4 808.5,423.2 809.6,423.0 810.4,422.8 811.2,422.6 811.8,422.4 812.2,422.2 812.4,422.0 812.5,421.8" class="coilwb"/>
<path d="M761.1,413.9 761.2,413.7 761.4,413.5 761.8,413.3 762.4,413.1 763.2,412.9 764.0,412.7 765.1,412.5 766.3,412.3 767.6,412.1 769.0,411.9 770.5,411.7 772.2,411.5 773.9,411.3 775.8,411.1 777.7,410.9 779.6,410.7 781.7,410.5 783.7,410.3 785.8,410.1 787.8,409.9 789.9,409.7 791.9,409.5 794.0,409.3 795.9,409.1 797.8,408.9 799.6,408.7 801.4,408.5 803.1,408.3 804.6,408.1 806.0,407.9 807.3,407.7 808.5,407.5 809.6,407.3 810.4,407.1 811.2,406.9 811.8,406.7 812.2,406.5 812.4,406.3 812.5,406.1" class="coilb"/>
<path d="M761.1,413.9 761.2,413.7 761.4,413.5 761.8,413.3 762.4,413.1 763.2,412.9 764.0,412.7 765.1,412.5 766.3,412.3 767.6,412.1 769.0,411.9 770.5,411.7 772.2,411.5 773.9,411.3 775.8,411.1 777.7,410.9 779.6,410.7 781.7,410.5 783.7,410.3 785.8,410.1 787.8,409.9 789.9,409.7 791.9,409.5 794.0,409.3 795.9,409.1 797.8,408.9 799.6,408.7 801.4,408.5 803.1,408.3 804.6,408.1 806.0,407.9 807.3,407.7 808.5,407.5 809.6,407.3 810.4,407.1 811.2,406.9 811.8,406.7 812.2,406.5 812.4,406.3 812.5,406.1" class="coilwb"/>
<path d="M761.1,398.3 761.2,398.1 761.4,397.9 761.8,397.7 762.4,397.5 763.2,397.3 764.0,397.1 765.1,396.9 766.3,396.7 767.6,396.5 769.0,396.2 770.5,396.0 772.2,395.8 773.9,395.6 775.8,395.4 777.7,395.2 779.6,395.0 781.7,394.8 783.7,394.6 785.8,394.4 787.8,394.2 789.9,394.0 791.9,393.8 794.0,393.6 795.9,393.4 797.8,393.2 799.6,393.0 801.4,392.8 803.1,392.6 804.6,392.4 806.0,392.2 807.3,392.0 808.5,391.8 809.6,391.6 810.4,391.4 811.2,391.2 811.8,391.0 812.2,390.8 812.4,390.6 812.5,390.4" class="coilb"/>
<path d="M761.1,398.3 761.2,398.1 761.4,397.9 761.8,397.7 762.4,397.5 763.2,397.3 764.0,397.1 765.1,396.9 766.3,396.7 767.6,396.5 769.0,396.2 770.5,396.0 772.2,395.8 773.9,395.6 775.8,395.4 777.7,395.2 779.6,395.0 781.7,394.8 783.7,394.6 785.8,394.4 787.8,394.2 789.9,394.0 791.9,393.8 794.0,393.6 795.9,393.4 797.8,393.2 799.6,393.0 801.4,392.8 803.1,392.6 804.6,392.4 806.0,392.2 807.3,392.0 808.5,391.8 809.6,391.6 810.4,391.4 811.2,391.2 811.8,391.0 812.2,390.8 812.4,390.6 812.5,390.4" class="coilwb"/>
<path d="M761.1,382.6 761.2,382.4 761.4,382.2 761.8,382.0 762.4,381.8 763.2,381.6 764.0,381.4 765.1,381.2 766.3,381.0 767.6,380.8 769.0,380.6 770.5,380.4 772.2,380.2 773.9,380.0 775.8,379.8 777.7,379.6 779.6,379.4 781.7,379.2 783.7,379.0 785.8,378.8 787.8,378.6 789.9,378.4 791.9,378.2 794.0,378.0 795.9,377.8 797.8,377.6 799.6,377.4 801.4,377.2 803.1,377.0 804.6,376.8 806.0,376.5 807.3,376.3 808.5,376.1 809.6,375.9 810.4,375.7 811.2,375.5 811.8,375.3 812.2,375.1 812.4,374.9 812.5,374.7" class="coilb"/>
<path d="M761.1,382.6 761.2,382.4 761.4,382.2 761.8,382.0 762.4,381.8 763.2,381.6 764.0,381.4 765.1,381.2 766.3,381.0 767.6,380.8 769.0,380.6 770.5,380.4 772.2,380.2 773.9,380.0 775.8,379.8 777.7,379.6 779.6,379.4 781.7,379.2 783.7,379.0 785.8,378.8 787.8,378.6 789.9,378.4 791.9,378.2 794.0,378.0 795.9,377.8 797.8,377.6 799.6,377.4 801.4,377.2 803.1,377.0 804.6,376.8 806.0,376.5 807.3,376.3 808.5,376.1 809.6,375.9 810.4,375.7 811.2,375.5 811.8,375.3 812.2,375.1 812.4,374.9 812.5,374.7" class="coilwb"/>
<rect x="750.5" y="365.7" width="73" height="14.6" class="kw"/>
<rect x="757.2" y="533.7" width="59.4" height="45.9" class="kw"/>
<line x1="772.7" y1="533.7" x2="772.7" y2="579.6" class="k"/>
<line x1="801.4" y1="533.7" x2="801.4" y2="579.6" class="k"/>
<polyline points="764.4,579.8 764.4,591.2 809.4,591.2 809.4,579.8" class="hdk"/>
<polyline points="769.6,591.2 769.6,616.4 804.4,616.4 804.4,591.2" class="hd"/>
<line x1="771.8" y1="593" x2="771.8" y2="614" class="hd"/>
<line x1="802.2" y1="593" x2="802.2" y2="614" class="hd"/>
<path d="M771.6,616.4 Q771.6,618.8 774,618.8 H800 Q802.4,618.8 802.4,616.4" class="hd"/>
<line x1="786.8" y1="581" x2="786.8" y2="591" class="g"/>
<line x1="819.6" y1="608.7" x2="788" y2="581.2" class="ld"/>
<path d="M788,581.2L796.86,586.26L794.23,589.27Z" class="ah"/>
<text x="822.7" y="613.6" font-size="14" text-anchor="start" class="tx">G3/8"</text>
<line x1="734" y1="613.6" x2="769.2" y2="603.3" class="ld"/>
<path d="M769.2,603.3L760.16,608.03L759.04,604.19Z" class="ah"/>
<text x="701.2" y="629.4" font-size="14" text-anchor="start" class="tx">3/8"NPT</text>
<line x1="809.7" y1="633.9" x2="788.6" y2="618.6" class="ld"/>
<path d="M788.6,618.6L797.87,622.85L795.52,626.09Z" class="ah"/>
<text x="813.3" y="639.3" font-size="14" text-anchor="start" class="tx">2</text>
<line x1="788.2" y1="90.2" x2="972.6" y2="90.2" class="t"/>
<line x1="844.9" y1="279.6" x2="972.6" y2="279.6" class="t"/>
<line x1="816" y1="407.8" x2="903.8" y2="407.8" class="t"/>
<line x1="816" y1="513.3" x2="903.8" y2="513.3" class="t"/>
<line x1="821.9" y1="579.5" x2="972.5" y2="579.5" class="t"/>
<line x1="807" y1="619" x2="905.3" y2="619" class="t"/>
<line x1="734.2" y1="56" x2="734.2" y2="84.8" class="t"/>
<line x1="839.5" y1="56" x2="839.5" y2="115.4" class="t"/>
<line x1="734.2" y1="61.4" x2="839.5" y2="61.4" class="t"/>
<path d="M734.2,61.4L744.2,59.4L744.2,63.4Z" class="ah"/>
<path d="M839.5,61.4L829.5,63.4L829.5,59.4Z" class="ah"/>
<text x="784.1" y="46.1" font-size="14" text-anchor="middle" class="tx">50.8</text>
<text x="785.5" y="58.7" font-size="14" text-anchor="middle" class="tx"><tspan class="br" dy="-1.5">[</tspan><tspan dx="1.6" dy="1.5"> 2.00" </tspan><tspan class="br" dx="1.6" dy="-1.5">]</tspan></text>
<line x1="967.6" y1="90.3" x2="967.6" y2="279.6" class="t"/>
<path d="M967.6,90.3L969.6,100.3L965.6,100.3Z" class="ah"/>
<path d="M967.6,279.6L965.6,269.6L969.6,269.6Z" class="ah"/>
<text transform="translate(952.6,188.1) rotate(-90)" font-size="14" text-anchor="middle" class="tx">91.6</text>
<text transform="translate(964.8,185.9) rotate(-90)" font-size="14" text-anchor="middle" class="tx"><tspan class="br" dy="-1.5">[</tspan><tspan dx="1.6" dy="1.5"> 3.61" </tspan><tspan class="br" dx="1.6" dy="-1.5">]</tspan></text>
<line x1="967.6" y1="279.6" x2="967.6" y2="579.5" class="t"/>
<path d="M967.6,279.6L969.6,289.6L965.6,289.6Z" class="ah"/>
<path d="M967.6,579.5L965.6,569.5L969.6,569.5Z" class="ah"/>
<text transform="translate(953,434.3) rotate(-90)" font-size="14" text-anchor="middle" class="tx">144</text>
<text transform="translate(963.4,430.8) rotate(-90)" font-size="14" text-anchor="middle" class="tx"><tspan class="br" dy="-1.5">[</tspan><tspan dx="1.6" dy="1.5"> 5.67" </tspan><tspan class="br" dx="1.6" dy="-1.5">]</tspan></text>
<line x1="937" y1="339.7" x2="937" y2="579.5" class="t"/>
<path d="M937,339.7L939,349.7L935,349.7Z" class="ah"/>
<path d="M937,579.5L935,569.5L939,569.5Z" class="ah"/>
<text transform="translate(921.9,458) rotate(-90)" font-size="14" text-anchor="middle" class="tx">115.5</text>
<text transform="translate(934,460.6) rotate(-90)" font-size="14" text-anchor="middle" class="tx"><tspan class="br" dy="-1.5">[</tspan><tspan dx="1.6" dy="1.5"> 4.55" </tspan><tspan class="br" dx="1.6" dy="-1.5">]</tspan></text>
<line x1="898.5" y1="407.8" x2="898.5" y2="513.3" class="t"/>
<path d="M898.5,407.8L900.5,417.8L896.5,417.8Z" class="ah"/>
<path d="M898.5,513.3L896.5,503.3L900.5,503.3Z" class="ah"/>
<text transform="translate(882.7,439.5) rotate(-90)" font-size="14" text-anchor="middle" class="tx">51</text>
<text transform="translate(896.2,430.6) rotate(-90)" font-size="14" text-anchor="middle" class="tx"><tspan class="br" dy="-1.5">[</tspan><tspan dx="1.6" dy="1.5"> 2.01" </tspan><tspan class="br" dx="1.6" dy="-1.5">]</tspan></text>
<text transform="translate(896,472) rotate(-90)" font-size="14" text-anchor="middle" class="tx">0 -</text>
<line x1="891" y1="486.6" x2="891" y2="515.3" class="t"/>
<path d="M891,486.6L893,496.6L889,496.6Z" class="ah"/>
<path d="M891,515.3L889,505.3L893,505.3Z" class="ah"/>
<line x1="900.3" y1="517.4" x2="900.3" y2="619" class="t"/>
<path d="M900.3,579.5L902.3,589.5L898.3,589.5Z" class="ah"/>
<path d="M900.3,619L898.3,609L902.3,609Z" class="ah"/>
<text transform="translate(884.9,549.5) rotate(-90)" font-size="14" text-anchor="middle" class="tx">18.7</text>
<text transform="translate(897.7,547.5) rotate(-90)" font-size="14" text-anchor="middle" class="tx"><tspan class="br" dy="-1.5">[</tspan><tspan dx="1.6" dy="1.5"> 0.74" </tspan><tspan class="br" dx="1.6" dy="-1.5">]</tspan></text>
<rect x="60.6" y="714.4" width="106" height="52.6" class="k"/>
<polygon points="106,735 96.5,751.45 77.5,751.45 68,735 77.5,718.55 96.5,718.55" class="k"/>
<circle cx="87" cy="735" r="16.4" class="k1"/>
<polygon points="94.6,735 90.8,741.58 83.2,741.58 79.4,735 83.2,728.42 90.8,728.42" class="k1"/>
<circle cx="113.6" cy="741" r="10.5" class="k2"/>
<circle cx="140" cy="733" r="13" class="k2"/>
<line x1="127.5" y1="736.4" x2="152.5" y2="736.4" class="k2"/>
<rect x="60.6" y="767" width="49.4" height="40.4" class="k"/>
<circle cx="88" cy="785.6" r="13.3" class="k"/>
<rect x="166.6" y="714.4" width="51.4" height="52.6" class="k"/>
<path d="M120.4,767 V774.6 Q120.4,777.2 123.0,777.2 H127.80000000000001 Q130.4,777.2 130.4,774.6 V767" class="k"/>
<path d="M130.4,767 V774.6 Q130.4,777.2 133.0,777.2 H147.0 Q149.6,777.2 149.6,774.6 V767" class="k"/>
<path d="M149.6,767 V774.6 Q149.6,777.2 152.2,777.2 H157.0 Q159.6,777.2 159.6,774.6 V767" class="k"/>
<circle cx="185" cy="725" r="2.5" class="pin"/>
<line x1="185" y1="737.4" x2="185" y2="757" class="g"/>
<line x1="185" y1="772.2" x2="185" y2="853" class="t"/>
<path d="M169.1,636.9 H200.9 A29.8,29.8 0 0 1 205.7,683.5 H164.3 A29.8,29.8 0 0 1 169.1,636.9 Z" class="k"/>
<line x1="168.7" y1="683.5" x2="168.7" y2="714.4" class="k"/>
<line x1="201.7" y1="683.5" x2="201.7" y2="714.4" class="k"/>
<line x1="178.8" y1="608.2" x2="178.8" y2="617.5" class="t1"/>
<line x1="68.2" y1="675.1" x2="129.4" y2="722.9" class="ld"/>
<path d="M129.4,722.9L120.29,718.32L122.75,715.17Z" class="ah"/>
<text x="10.2" y="638.8" font-size="14" text-anchor="start" class="tx">1A</text>
<text x="10.2" y="654.9" font-size="14" text-anchor="start" class="tx">G1/4"</text>
<text x="10.2" y="669.9" font-size="14" text-anchor="start" class="tx">1/4"NPT</text>
<line x1="26.4" y1="816" x2="75.6" y2="792" class="ld"/>
<path d="M75.6,792L67.49,798.18L65.74,794.59Z" class="ah"/>
<text x="0.5" y="831.8" font-size="14" text-anchor="start" class="tx">1</text>
<text x="-0.5" y="847" font-size="14" text-anchor="start" class="tx">G1/4"</text>
<text x="0.5" y="863" font-size="14" text-anchor="start" class="tx">1/4"NPT</text>
<line x1="206" y1="636.9" x2="296.3" y2="636.9" class="t"/>
<line x1="190.1" y1="662.1" x2="255.5" y2="662.1" class="t"/>
<line x1="223.5" y1="714.6" x2="296.3" y2="714.6" class="t"/>
<line x1="115" y1="807.4" x2="293" y2="807.4" class="t"/>
<line x1="60.6" y1="812" x2="60.6" y2="886.5" class="t"/>
<line x1="113.6" y1="745.5" x2="113.6" y2="853" class="t"/>
<line x1="218" y1="772.2" x2="218" y2="886.5" class="t"/>
<line x1="291.5" y1="636.9" x2="291.5" y2="714.6" class="t"/>
<path d="M291.5,636.9L293.5,646.9L289.5,646.9Z" class="ah"/>
<path d="M291.5,714.6L289.5,704.6L293.5,704.6Z" class="ah"/>
<line x1="291.5" y1="714.6" x2="291.5" y2="807.4" class="t"/>
<path d="M291.5,714.6L293.5,724.6L289.5,724.6Z" class="ah"/>
<path d="M291.5,807.4L289.5,797.4L293.5,797.4Z" class="ah"/>
<line x1="250.3" y1="662.1" x2="250.3" y2="714.6" class="t"/>
<path d="M250.3,662.1L252.3,672.1L248.3,672.1Z" class="ah"/>
<path d="M250.3,714.6L248.3,704.6L252.3,704.6Z" class="ah"/>
<text transform="translate(276.9,685) rotate(-90)" font-size="14" text-anchor="middle" class="tx">37</text>
<text transform="translate(289.1,676.7) rotate(-90)" font-size="14" text-anchor="middle" class="tx"><tspan class="br" dy="-1.5">[</tspan><tspan dx="1.6" dy="1.5"> 1.46" </tspan><tspan class="br" dx="1.6" dy="-1.5">]</tspan></text>
<text transform="translate(236.1,697.6) rotate(-90)" font-size="14" text-anchor="middle" class="tx">25</text>
<text transform="translate(247.8,688.4) rotate(-90)" font-size="14" text-anchor="middle" class="tx"><tspan class="br" dy="-1.5">[</tspan><tspan dx="1.6" dy="1.5"> 0.98" </tspan><tspan class="br" dx="1.6" dy="-1.5">]</tspan></text>
<text transform="translate(277,765.5) rotate(-90)" font-size="14" text-anchor="middle" class="tx">44.7</text>
<text transform="translate(289,760) rotate(-90)" font-size="14" text-anchor="middle" class="tx"><tspan class="br" dy="-1.5">[</tspan><tspan dx="1.6" dy="1.5"> 1.76" </tspan><tspan class="br" dx="1.6" dy="-1.5">]</tspan></text>
<line x1="113.6" y1="847.6" x2="185" y2="847.6" class="t"/>
<path d="M113.6,847.6L123.6,845.6L123.6,849.6Z" class="ah"/>
<path d="M185,847.6L175,849.6L175,845.6Z" class="ah"/>
<line x1="185" y1="847.6" x2="288" y2="847.6" class="t"/>
<path d="M185,847.6L195,845.6L195,849.6Z" class="ah"/>
<path d="M218,847.6L208,849.6L208,845.6Z" class="ah"/>
<line x1="60.6" y1="881.6" x2="218" y2="881.6" class="t"/>
<path d="M60.6,881.6L70.6,879.6L70.6,883.6Z" class="ah"/>
<path d="M218,881.6L208,883.6L208,879.6Z" class="ah"/>
<text x="146.5" y="832.6" font-size="14" text-anchor="middle" class="tx">34.4</text>
<text x="148.3" y="845.6" font-size="14" text-anchor="middle" class="tx"><tspan class="br" dy="-1.5">[</tspan><tspan dx="1.6" dy="1.5"> 1.35" </tspan><tspan class="br" dx="1.6" dy="-1.5">]</tspan></text>
<text x="248" y="832.6" font-size="14" text-anchor="middle" class="tx">15.8</text>
<text x="253.5" y="845.6" font-size="14" text-anchor="middle" class="tx"><tspan class="br" dy="-1.5">[</tspan><tspan dx="1.6" dy="1.5"> 0.624" </tspan><tspan class="br" dx="1.6" dy="-1.5">]</tspan></text>
<text x="137.3" y="866" font-size="14" text-anchor="middle" class="tx">75.6</text>
<text x="138.3" y="878.6" font-size="14" text-anchor="middle" class="tx"><tspan class="br" dy="-1.5">[</tspan><tspan dx="1.6" dy="1.5"> 2.98" </tspan><tspan class="br" dx="1.6" dy="-1.5">]</tspan></text>
<text x="364" y="589.4" font-size="14" text-anchor="start" class="tx">P</text>
<circle cx="336.2" cy="608.3" r="4.6" class="t1"/>
<line x1="331" y1="615" x2="341.6" y2="601.3" class="t1"/>
<text x="365.8" y="607.7" font-size="14" text-anchor="middle" class="tx">16</text>
<text x="374" y="620" font-size="14" text-anchor="middle" class="tx"><tspan class="br" dy="-1.5">[</tspan><tspan dx="1.6" dy="1.5"> 0.63" </tspan><tspan class="br" dx="1.6" dy="-1.5">]</tspan></text>
<line x1="348.7" y1="611" x2="348.7" y2="657.3" class="t"/>
<line x1="348.7" y1="622.4" x2="362" y2="622.4" class="t"/>
<path d="M348.7,622.4L358.7,620.4L358.7,624.4Z" class="ah"/>
<path d="M348.5,657.1 H381.7 V677.3 Q379.2,683.6 381.7,690.3 V709.2 H348.5 V690.3 Q351,683.6 348.5,677.3 Z" class="k"/>
<line x1="348.5" y1="677.3" x2="356.8" y2="677.3" class="k"/>
<line x1="373.3" y1="677.3" x2="381.7" y2="677.3" class="k"/>
<path d="M356.8,677.3 L362.6,681.2 Q364.9,682.6 367.2,681.2 L373.3,677.3" class="k"/>
<line x1="356.8" y1="657.1" x2="356.8" y2="677.3" class="k"/>
<line x1="373.3" y1="657.1" x2="373.3" y2="677.3" class="k"/>
<line x1="348.5" y1="690.3" x2="381.7" y2="690.3" class="k"/>
<line x1="386.6" y1="657.1" x2="459.1" y2="657.1" class="t"/>
<line x1="384.4" y1="683.5" x2="421.3" y2="683.5" class="t"/>
<line x1="343.7" y1="709.2" x2="382.5" y2="709.2" class="t"/>
<line x1="393.3" y1="709.2" x2="459.1" y2="709.2" class="t"/>
<line x1="454.1" y1="657.1" x2="454.1" y2="777" class="t"/>
<path d="M454.1,657.1L456.1,667.1L452.1,667.1Z" class="ah"/>
<path d="M454.1,709.2L452.1,699.2L456.1,699.2Z" class="ah"/>
<line x1="416.4" y1="683.5" x2="416.4" y2="773" class="t"/>
<path d="M416.4,683.5L418.4,693.5L414.4,693.5Z" class="ah"/>
<path d="M416.4,709.2L414.4,699.2L418.4,699.2Z" class="ah"/>
<text transform="translate(402.3,745.3) rotate(-90)" font-size="14" text-anchor="middle" class="tx">12.3</text>
<text transform="translate(413.8,743.5) rotate(-90)" font-size="14" text-anchor="middle" class="tx"><tspan class="br" dy="-1.5">[</tspan><tspan dx="1.6" dy="1.5"> 0.48" </tspan><tspan class="br" dx="1.6" dy="-1.5">]</tspan></text>
<text transform="translate(439.2,757) rotate(-90)" font-size="14" text-anchor="middle" class="tx">25</text>
<text transform="translate(451.5,744.4) rotate(-90)" font-size="14" text-anchor="middle" class="tx"><tspan class="br" dy="-1.5">[</tspan><tspan dx="1.6" dy="1.5"> 0.984" </tspan><tspan class="br" dx="1.6" dy="-1.5">]</tspan></text>
<text x="528.5" y="592.6" font-size="14" text-anchor="start" class="tx">C</text>
<circle cx="504" cy="610.4" r="4.6" class="t1"/>
<line x1="499" y1="617.4" x2="509.1" y2="603.4" class="t1"/>
<text x="534.2" y="609.2" font-size="14" text-anchor="middle" class="tx">19</text>
<text x="541.5" y="621.8" font-size="14" text-anchor="middle" class="tx"><tspan class="br" dy="-1.5">[</tspan><tspan dx="1.6" dy="1.5"> 0.75" </tspan><tspan class="br" dx="1.6" dy="-1.5">]</tspan></text>
<line x1="513.9" y1="620" x2="513.9" y2="648.7" class="t"/>
<line x1="513.9" y1="623.9" x2="533.9" y2="623.9" class="t"/>
<path d="M513.9,623.9L523.9,621.9L523.9,625.9Z" class="ah"/>
<path d="M513.8,653.5 H553.3 V669.6 Q540,679.7 553.3,689.6 V706.5 H513.8 V689.6 Q527,679.7 513.8,669.6 Z" class="k"/>
<line x1="513.8" y1="669.6" x2="519.1" y2="669.6" class="k"/>
<line x1="548" y1="669.6" x2="553.3" y2="669.6" class="k"/>
<path d="M519.1,669.6 L531.6,677 Q533.6,678.3 535.6,677 L548,669.6" class="k"/>
<line x1="519.1" y1="653.5" x2="519.1" y2="669.6" class="k"/>
<line x1="548" y1="653.5" x2="548" y2="669.6" class="k"/>
<line x1="513.8" y1="689.8" x2="553.3" y2="689.8" class="k"/>
<line x1="554" y1="653.3" x2="635.8" y2="653.3" class="t"/>
<line x1="564.1" y1="679.5" x2="596.4" y2="679.5" class="t"/>
<line x1="562" y1="708.5" x2="635.8" y2="708.5" class="t"/>
<line x1="511" y1="708.5" x2="558" y2="708.5" class="hd"/>
<line x1="630.5" y1="653.3" x2="630.5" y2="768" class="t"/>
<path d="M630.5,653.3L632.5,663.3L628.5,663.3Z" class="ah"/>
<path d="M630.5,708.5L628.5,698.5L632.5,698.5Z" class="ah"/>
<line x1="591.1" y1="679.5" x2="591.1" y2="767.3" class="t"/>
<path d="M591.1,679.5L593.1,689.5L589.1,689.5Z" class="ah"/>
<path d="M591.1,708.5L589.1,698.5L593.1,698.5Z" class="ah"/>
<text transform="translate(577,740.9) rotate(-90)" font-size="14" text-anchor="middle" class="tx">13.9</text>
<text transform="translate(587.8,738.2) rotate(-90)" font-size="14" text-anchor="middle" class="tx"><tspan class="br" dy="-1.5">[</tspan><tspan dx="1.6" dy="1.5"> 0.55" </tspan><tspan class="br" dx="1.6" dy="-1.5">]</tspan></text>
<text transform="translate(615.8,742) rotate(-90)" font-size="14" text-anchor="middle" class="tx">26.4</text>
<text transform="translate(627.7,738.2) rotate(-90)" font-size="14" text-anchor="middle" class="tx"><tspan class="br" dy="-1.5">[</tspan><tspan dx="1.6" dy="1.5"> 1.04" </tspan><tspan class="br" dx="1.6" dy="-1.5">]</tspan></text>
<path d="M734,780.4 H729.8 Q726.8,780.4 726.8,777.4 V747.4 Q726.8,744.4 729.8,744.4 H787 A38.6,38.6 0 0 1 816,757.6" class="k"/>
<path d="M734,786.8 H729.8 Q726.8,786.8 726.8,789.8 V820.2 Q726.8,823.2 729.8,823.2 H734" class="k"/>
<line x1="728.6" y1="750" x2="728.6" y2="776" class="g"/>
<line x1="728.6" y1="792" x2="728.6" y2="818" class="g"/>
<line x1="737.8" y1="746.4" x2="771.4" y2="746.4" class="g"/>
<path d="M764.1,757.6 A34.2,34.2 0 0 1 809.9,757.6" class="k1"/>
<path d="M772.6,757.6 A29.8,29.8 0 0 1 804.4,757.6" class="k1"/>
<rect x="734" y="757.7" width="106" height="52.6" class="k"/>
<polygon points="779.4,778.3 769.9,794.75 750.9,794.75 741.4,778.3 750.9,761.85 769.9,761.85" class="k"/>
<circle cx="760.4" cy="778.3" r="16.4" class="k1"/>
<polygon points="768,778.3 764.2,784.88 756.6,784.88 752.8,778.3 756.6,771.72 764.2,771.72" class="k1"/>
<circle cx="787" cy="784.3" r="10.5" class="k2"/>
<circle cx="813.4" cy="776.3" r="13" class="k2"/>
<line x1="800.9" y1="779.7" x2="825.9" y2="779.7" class="k2"/>
<rect x="734" y="810.3" width="49.4" height="40.4" class="k"/>
<circle cx="761.6" cy="828.1" r="13.5" class="k"/>
<circle cx="761.6" cy="828.1" r="9.1" class="k3"/>
<circle cx="761.6" cy="828.1" r="4.7" class="k1"/>
<path d="M839.6,757.4 H901.8 Q903.3,757.4 903.3,758.9 V808.1 Q903.3,809.6 901.8,809.6 H839.6" class="k"/>
<path d="M794.8,810 V817.8 Q794.8,820.4 797.4,820.4 H801.1999999999999 Q803.8,820.4 803.8,817.8 V810" class="k"/>
<path d="M803.8,810 V817.8 Q803.8,820.4 806.4,820.4 H821.0 Q823.6,820.4 823.6,817.8 V810" class="k"/>
<path d="M823.6,810 V817.8 Q823.6,820.4 826.2,820.4 H829.4 Q832,820.4 832,817.8 V810" class="k"/>
<line x1="783.5" y1="812.8" x2="794.8" y2="812.8" class="k1"/>
<line x1="783.5" y1="815.7" x2="794.8" y2="815.7" class="k1"/>
<line x1="783.5" y1="818.3" x2="794.8" y2="818.3" class="k1"/>
<line x1="783.5" y1="820.8" x2="794.8" y2="820.8" class="k1"/>
<circle cx="877.3" cy="768.1" r="3" class="k1"/>
<line x1="877.3" y1="780" x2="877.3" y2="798.6" class="g"/>
<line x1="877.3" y1="813" x2="877.3" y2="897" class="t"/>
<line x1="849" y1="759.4" x2="868" y2="759.4" class="g"/>
<line x1="883.4" y1="759.4" x2="897.2" y2="759.4" class="g"/>
<line x1="849" y1="807" x2="868" y2="807" class="g"/>
<line x1="883.4" y1="807" x2="897.2" y2="807" class="g"/>
<path d="M860.2,681.1 H895 A30.2,30.2 0 0 1 899.7,726.4 H855.5 A30.2,30.2 0 0 1 860.2,681.1 Z" class="k"/>
<line x1="860.7" y1="726.4" x2="860.7" y2="757.5" class="k"/>
<line x1="894.2" y1="726.4" x2="894.2" y2="757.5" class="k"/>
<line x1="725.6" y1="715" x2="805" y2="765" class="ld"/>
<path d="M805,765L795.47,761.36L797.6,757.98Z" class="ah"/>
<text x="668" y="678" font-size="14" text-anchor="start" class="tx">1A</text>
<text x="668" y="694" font-size="14" text-anchor="start" class="tx">G1/4"</text>
<text x="668" y="709.4" font-size="14" text-anchor="start" class="tx">1/4"NPT</text>
<line x1="725.6" y1="844.6" x2="751" y2="833.4" class="ld"/>
<path d="M751,833.4L742.66,839.26L741.04,835.6Z" class="ah"/>
<text x="668" y="850.1" font-size="14" text-anchor="start" class="tx">1</text>
<text x="667" y="865.6" font-size="14" text-anchor="start" class="tx">G1/4"</text>
<text x="667.5" y="881.1" font-size="14" text-anchor="start" class="tx">1/4"NPT</text>
<line x1="899" y1="681.1" x2="1000" y2="681.1" class="t"/>
<line x1="882.6" y1="705.2" x2="962.9" y2="705.2" class="t"/>
<line x1="906" y1="757.5" x2="1000" y2="757.5" class="t"/>
<line x1="787" y1="850.4" x2="962.5" y2="850.4" class="t"/>
<line x1="726.4" y1="826.4" x2="726.4" y2="927" class="t"/>
<line x1="787" y1="788.5" x2="787" y2="897" class="t"/>
<line x1="903.4" y1="813" x2="903.4" y2="927" class="t"/>
<line x1="994.8" y1="681.1" x2="994.8" y2="757.5" class="t"/>
<path d="M994.8,681.1L996.8,691.1L992.8,691.1Z" class="ah"/>
<path d="M994.8,757.5L992.8,747.5L996.8,747.5Z" class="ah"/>
<line x1="957.4" y1="705.2" x2="957.4" y2="757.5" class="t"/>
<path d="M957.4,705.2L959.4,715.2L955.4,715.2Z" class="ah"/>
<path d="M957.4,757.5L955.4,747.5L959.4,747.5Z" class="ah"/>
<line x1="957.4" y1="757.5" x2="957.4" y2="850.4" class="t"/>
<path d="M957.4,757.5L959.4,767.5L955.4,767.5Z" class="ah"/>
<path d="M957.4,850.4L955.4,840.4L959.4,840.4Z" class="ah"/>
<text transform="translate(943,740.3) rotate(-90)" font-size="14" text-anchor="middle" class="tx">25</text>
<text transform="translate(954.3,732.1) rotate(-90)" font-size="14" text-anchor="middle" class="tx"><tspan class="br" dy="-1.5">[</tspan><tspan dx="1.6" dy="1.5"> 0.98" </tspan><tspan class="br" dx="1.6" dy="-1.5">]</tspan></text>
<text transform="translate(980.2,727.8) rotate(-90)" font-size="14" text-anchor="middle" class="tx">37</text>
<text transform="translate(992.2,720) rotate(-90)" font-size="14" text-anchor="middle" class="tx"><tspan class="br" dy="-1.5">[</tspan><tspan dx="1.6" dy="1.5"> 1.46" </tspan><tspan class="br" dx="1.6" dy="-1.5">]</tspan></text>
<text transform="translate(943,805.9) rotate(-90)" font-size="14" text-anchor="middle" class="tx">44.5</text>
<text transform="translate(954.3,800) rotate(-90)" font-size="14" text-anchor="middle" class="tx"><tspan class="br" dy="-1.5">[</tspan><tspan dx="1.6" dy="1.5"> 1.75" </tspan><tspan class="br" dx="1.6" dy="-1.5">]</tspan></text>
<line x1="787" y1="890" x2="877.6" y2="890" class="t"/>
<path d="M787,890L797,888L797,892Z" class="ah"/>
<path d="M877.6,890L867.6,892L867.6,888Z" class="ah"/>
<line x1="877.6" y1="890" x2="974.5" y2="890" class="t"/>
<path d="M903.4,890L913.4,888L913.4,892Z" class="ah"/>
<line x1="726.4" y1="921.5" x2="903.4" y2="921.5" class="t"/>
<path d="M726.4,921.5L736.4,919.5L736.4,923.5Z" class="ah"/>
<path d="M903.4,921.5L893.4,923.5L893.4,919.5Z" class="ah"/>
<text x="829.5" y="875.6" font-size="14" text-anchor="middle" class="tx">43.5</text>
<text x="831.4" y="887.6" font-size="14" text-anchor="middle" class="tx"><tspan class="br" dy="-1.5">[</tspan><tspan dx="1.6" dy="1.5"> 1.71" </tspan><tspan class="br" dx="1.6" dy="-1.5">]</tspan></text>
<text x="934" y="875.6" font-size="14" text-anchor="middle" class="tx">12.5</text>
<text x="939.3" y="887.6" font-size="14" text-anchor="middle" class="tx"><tspan class="br" dy="-1.5">[</tspan><tspan dx="1.6" dy="1.5"> 0.492" </tspan><tspan class="br" dx="1.6" dy="-1.5">]</tspan></text>
<text x="806.2" y="906.5" font-size="14" text-anchor="middle" class="tx">85</text>
<text x="814" y="918.5" font-size="14" text-anchor="middle" class="tx"><tspan class="br" dy="-1.5">[</tspan><tspan dx="1.6" dy="1.5"> 3.35" </tspan><tspan class="br" dx="1.6" dy="-1.5">]</tspan></text>
</svg></body></html>
